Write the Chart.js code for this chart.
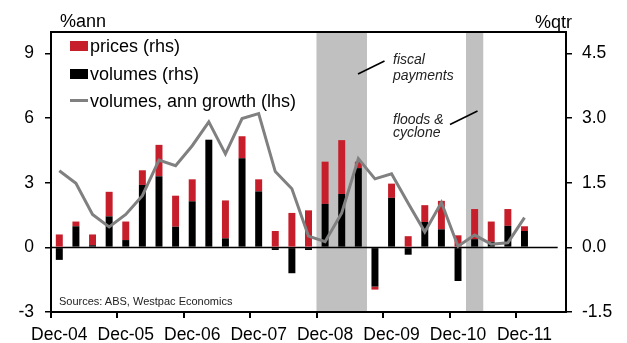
<!DOCTYPE html>
<html><head><meta charset="utf-8">
<script src="https://cdn.jsdelivr.net/npm/chart.js@4.4.1/dist/chart.umd.min.js"></script>
<style>
html,body{margin:0;padding:0;background:#fff;}
#wrap{position:relative;width:627px;height:343px;overflow:hidden;font-family:"Liberation Sans",Arial,sans-serif;color:#000;}
#wrap canvas{position:absolute;left:0;top:0;}
.t{position:absolute;white-space:nowrap;line-height:1;}
.lg{font-size:18px;}
.an{font-size:14px;font-style:italic;color:#222;}
.sw{position:absolute;}
svg{position:absolute;left:0;top:0;}
</style></head>
<body><div id="wrap">
<canvas id="c" width="627" height="343"></canvas>
<svg width="627" height="343">
  <line x1="358" y1="74" x2="384.5" y2="61" stroke="#000" stroke-width="1.6"/>
  <line x1="450" y1="124.5" x2="477.5" y2="111" stroke="#000" stroke-width="1.6"/>
</svg>
<div class="t" style="left:60px;top:12px;font-size:18px">%ann</div>
<div class="t" style="left:535px;top:12.5px;font-size:18px">%qtr</div>
<div class="sw" style="left:70px;top:41px;width:18px;height:10px;background:#C61F2B"></div>
<div class="t lg" style="left:90px;top:37px">prices (rhs)</div>
<div class="sw" style="left:70px;top:69px;width:18px;height:10px;background:#000"></div>
<div class="t lg" style="left:90px;top:64.5px">volumes (rhs)</div>
<div class="sw" style="left:70px;top:99px;width:18px;height:3px;background:#808080"></div>
<div class="t lg" style="left:90px;top:92px">volumes, ann growth (lhs)</div>
<div class="t an" style="left:393px;top:52px">fiscal</div>
<div class="t an" style="left:393px;top:67.5px">payments</div>
<div class="t an" style="left:393px;top:111.5px">floods &amp;</div>
<div class="t an" style="left:393px;top:125px">cyclone</div>
<div class="t" style="left:59px;top:296px;font-size:11px;color:#222">Sources: ABS, Westpac Economics</div>
</div>
<script>
const quarters = ['Dec-04','Mar-05','Jun-05','Sep-05','Dec-05','Mar-06','Jun-06','Sep-06',
  'Dec-06','Mar-07','Jun-07','Sep-07','Dec-07','Mar-08','Jun-08','Sep-08',
  'Dec-08','Mar-09','Jun-09','Sep-09','Dec-09','Mar-10','Jun-10','Sep-10',
  'Dec-10','Mar-11','Jun-11','Sep-11','Dec-11','Mar-12','Jun-12'];
const xTickLabels = ['Dec-04','Dec-05','Dec-06','Dec-07','Dec-08','Dec-09','Dec-10','Dec-11'];
// %qtr, right axis
const volumesQtr = [-0.29,0.49,0.05,0.72,0.17,1.45,1.65,0.48,
  1.07,2.50,0.21,2.07,1.30,-0.06,-0.60,-0.06,
  1.01,1.24,1.84,-0.91,1.15,-0.17,0.59,0.42,
  -0.78,0.19,0.13,0.50,0.38,null,null];
const pricesQtr = [0.30,0.11,0.25,0.57,0.43,0.34,0.73,0.72,
  0.51,0.00,0.88,0.51,0.28,0.38,0.80,0.86,
  0.98,1.25,0.15,-0.07,0.33,0.26,0.39,0.66,
  0.28,0.70,0.47,0.39,0.11,null,null];
// %ann, left axis
const volumesAnn = [3.56,2.98,1.53,0.95,1.53,2.40,4.05,3.79,
  4.72,5.83,4.34,5.98,6.21,3.52,2.72,0.52,
  0.26,1.60,4.12,3.18,3.42,2.05,0.72,2.08,
  0.05,0.57,0.15,0.21,1.38,null,null];
const shadedQuarters = ['Dec-08','Mar-09','Jun-09','Mar-11'];
const leftTicks = {min:-3, max:10, step:3};
const rightTicks = {min:-1.5, max:5, step:1.5};

const RED = '#C61F2B', GREY = '#808080', SHADE = '#C0C0C0';
Chart.defaults.font.family = '"Liberation Sans", Arial, sans-serif';
Chart.defaults.color = '#000';

const shadeData = quarters.map(q => shadedQuarters.includes(q) ? 1 : null);

const overlay = {
  id: 'overlay',
  afterDatasetDraw(chart, args) {
    if (args.index !== 3) return;
    const {ctx, chartArea: a, scales} = chart;
    const y0 = scales.y.getPixelForValue(0);
    ctx.save();
    ctx.strokeStyle = '#000'; ctx.lineWidth = 1.5;
    ctx.beginPath();
    ctx.moveTo(a.left, y0);
    ctx.lineTo(scales.x.getPixelForValue(quarters.length - 1), y0);
    ctx.stroke();
    ctx.restore();
  },
  afterDatasetsDraw(chart) {
    const {ctx, chartArea: a} = chart;
    ctx.save();
    ctx.strokeStyle = '#000'; ctx.lineWidth = 2;
    ctx.strokeRect(a.left, a.top, a.right - a.left, a.bottom - a.top);
    ctx.restore();
  }
};

const tickFont = {size: 17.5};

new Chart(document.getElementById('c'), {
  type: 'bar',
  data: {
    labels: quarters,
    datasets: [
      {label:'volumes (rhs)', data: volumesQtr, backgroundColor:'#000', xAxisID:'x', yAxisID:'y2', stack:'q', order:1, grouped:false, barPercentage:0.42, categoryPercentage:1},
      {label:'prices (rhs)', data: pricesQtr, backgroundColor:RED, xAxisID:'x', yAxisID:'y2', stack:'q', order:1, grouped:false, barPercentage:0.42, categoryPercentage:1},
      {type:'line', label:'volumes, ann growth (lhs)', data: volumesAnn, borderColor:GREY, backgroundColor:GREY, borderWidth:3, pointRadius:0, tension:0, xAxisID:'x', yAxisID:'y', order:0, borderJoinStyle:'miter'},
      {label:'shade', data: shadeData, backgroundColor:SHADE, xAxisID:'xs', yAxisID:'ys', order:2, grouped:false, barPercentage:1, categoryPercentage:1}
    ]
  },
  options: {
    responsive:false, animation:false, events:[],
    layout:{padding:{top:32,left:0,right:0,bottom:0}},
    plugins:{legend:{display:false}, tooltip:{enabled:false}},
    scales:{
      x:{type:'category', stacked:true, offset:true,
        grid:{offset:true, drawOnChartArea:false, drawTicks:true, tickLength:6, lineWidth:2,
          color:c => (c.index % 4 === 0 && c.index < quarters.length) ? '#000' : 'rgba(0,0,0,0)'},
        border:{display:false},
        ticks:{autoSkip:false, maxRotation:0, minRotation:0, padding:7, color:'#000', font:tickFont,
          callback:function(v){ const l = this.getLabelForValue(v); return xTickLabels.includes(l) ? l : ''; }},
        afterFit:s => { s.height = 31; }},
      xs:{type:'category', offset:true, display:false, grid:{offset:true}},
      y:{position:'left', min:leftTicks.min, max:leftTicks.max,
        ticks:{stepSize:leftTicks.step, includeBounds:false, padding:11, color:'#000', font:tickFont},
        grid:{drawOnChartArea:false, tickLength:6, color:'#000', lineWidth:1.5},
        border:{display:false},
        afterFit:s => { s.width = 51; }},
      y2:{position:'right', stacked:true, min:rightTicks.min, max:rightTicks.max,
        ticks:{stepSize:rightTicks.step, includeBounds:false, padding:10, color:'#000', font:tickFont,
          callback:v => Number(v).toFixed(1)},
        grid:{drawOnChartArea:false, tickLength:6, color:'#000', lineWidth:1.5},
        border:{display:false},
        afterFit:s => { s.width = 61; }},
      ys:{display:false, min:0, max:1}
    }
  },
  plugins:[overlay]
});
</script>
</body></html>
